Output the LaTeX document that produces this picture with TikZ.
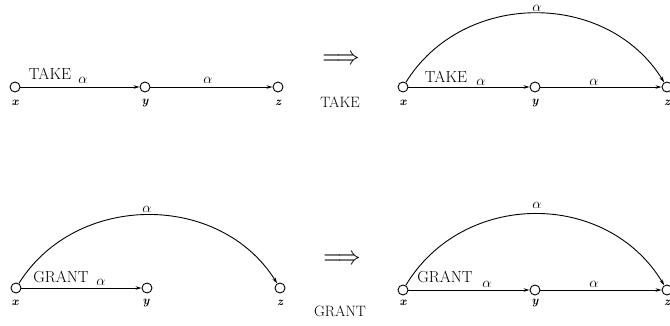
\documentclass[tikz,border=0pt]{standalone}
\usepackage{amsmath,amssymb}
\usepackage{graphicx}
\usepackage{tikz}
\usetikzlibrary{arrows.meta,calc}

\begin{document}
\begin{tikzpicture}[
x=1pt,
y=1pt,
vertex/.style={circle,draw,line width=0.9pt,fill=white,minimum size=10pt,inner sep=0pt},
vname/.style={font=\fontsize{12}{14}\selectfont\bfseries\itshape,inner sep=0pt},
right/.style={font=\fontsize{16}{19}\selectfont,inner sep=0pt,anchor=base},
lab/.style={font=\fontsize{14}{16}\selectfont,inner sep=0pt,anchor=base},
rule/.style={font=\fontsize{15}{18}\selectfont,inner sep=0pt},
implies/.style={inner sep=0pt},
arr/.style={-{Stealth[length=6pt,width=3.5pt]},line width=0.9pt}
]
\useasboundingbox (0,0) rectangle (670,325);

% TAKE: before
\node[vertex] (x1) at (15,238) {};
\node[vertex] (y1) at (145,238) {};
\node[vertex] (z1) at (278,238) {};
\node[vname] (x1n) at (15,222) {x};
\node[vname] (y1n) at (145,222) {y};
\node[vname] (z1n) at (278,222) {z};
\node[right] (r1) at (50,246) {TAKE};
\node[lab] (a1) at (83,242) {$\alpha$};
\node[lab] (a2) at (208,242) {$\alpha$};
\draw[arr] (x1) -- (y1);
\draw[arr] (y1) -- (z1);

% TAKE: after
\node[implies] (imp1) at (341,265) {\scalebox{2.3}[2.6]{$\Longrightarrow$}};
\node[rule] (rule1) at (340,223) {TAKE};
\node[vertex] (x2) at (403,238) {};
\node[vertex] (y2) at (535,238) {};
\node[vertex] (z2) at (667,238) {};
\node[vname] (x2n) at (403,222) {x};
\node[vname] (y2n) at (535,222) {y};
\node[vname] (z2n) at (667,222) {z};
\node[right] (r2) at (446,243) {TAKE};
\node[lab] (a3) at (481,240) {$\alpha$};
\node[lab] (a4) at (594,240) {$\alpha$};
\node[lab] (a5) at (537,313) {$\alpha$};
\draw[arr] (x2) -- (y2);
\draw[arr] (y2) -- (z2);
\draw[arr] (x2) .. controls +(60,97) and +(-60,97) .. (z2);

% GRANT: before
\node[vertex] (x3) at (16,37) {};
\node[vertex] (y3) at (147,37) {};
\node[vertex] (z3) at (280,37) {};
\node[vname] (x3n) at (15,22) {x};
\node[vname] (y3n) at (146,22) {y};
\node[vname] (z3n) at (280,22) {z};
\node[right] (r3) at (61,43) {GRANT};
\node[lab] (a6) at (101,40) {$\alpha$};
\node[lab] (a7) at (147,113) {$\alpha$};
\draw[arr] (x3) -- (y3);
\draw[arr] (x3) .. controls +(60,96) and +(-60,96) .. (z3);

% GRANT: after
\node[implies] (imp2) at (342,65) {\scalebox{2.3}[2.6]{$\Longrightarrow$}};
\node[rule] (rule2) at (340,14) {GRANT};
\node[vertex] (x4) at (403,35) {};
\node[vertex] (y4) at (535,35) {};
\node[vertex] (z4) at (667,35) {};
\node[vname] (x4n) at (403,22) {x};
\node[vname] (y4n) at (535,22) {y};
\node[vname] (z4n) at (667,22) {z};
\node[right] (r4) at (445,43) {GRANT};
\node[lab] (a8) at (487,38) {$\alpha$};
\node[lab] (a9) at (594,38) {$\alpha$};
\node[lab] (a10) at (537,117) {$\alpha$};
\draw[arr] (x4) -- (y4);
\draw[arr] (y4) -- (z4);
\draw[arr] (x4) .. controls +(60,100) and +(-60,100) .. (z4);
\end{tikzpicture}
\end{document}
